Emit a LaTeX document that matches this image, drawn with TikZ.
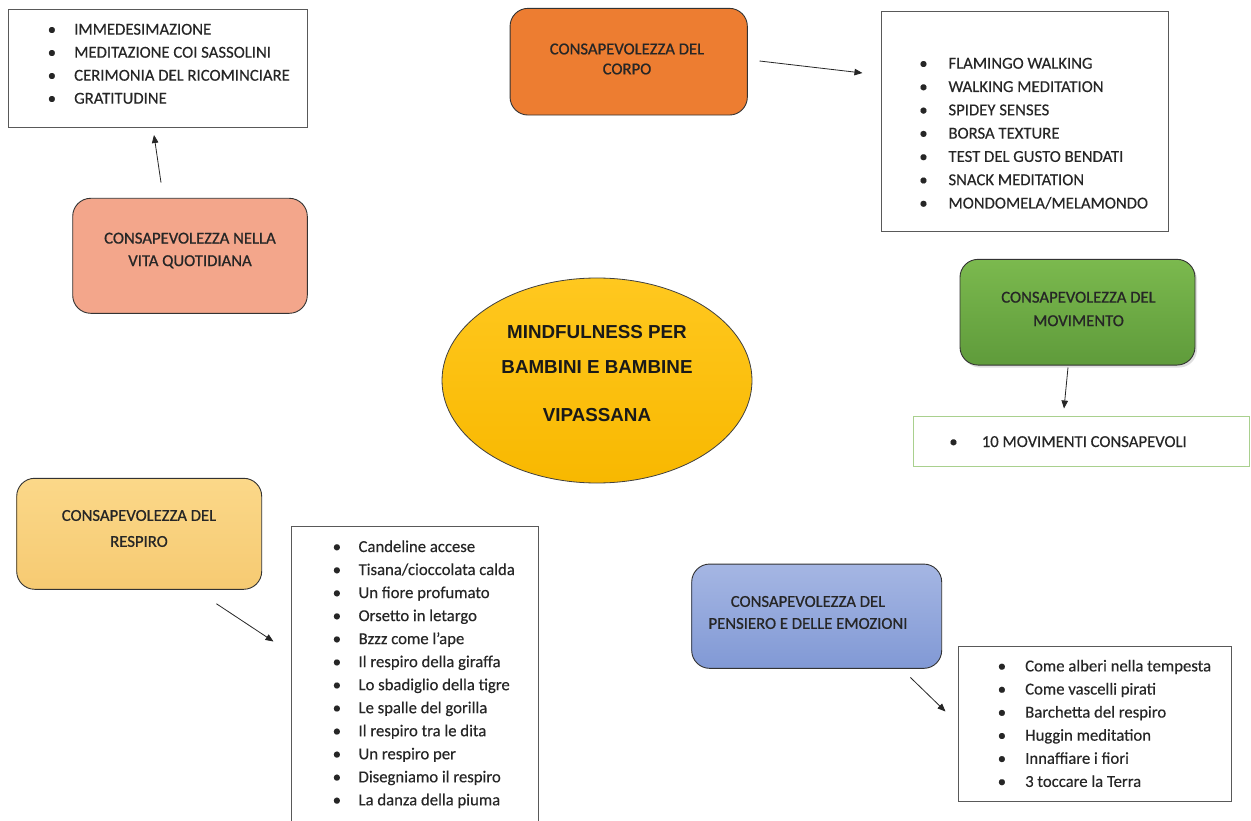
\documentclass[tikz,border=0pt]{standalone}
\usepackage{fontspec}
\setmainfont{Carlito}[FakeBold=0.3]
\newfontfamily\titlefont{Carlito}[FakeBold=0.8]
\newfontfamily\hubfont{Liberation Sans}
\usetikzlibrary{arrows.meta,calc,shadows,shapes.geometric}
\definecolor{vitaC}{HTML}{F3A68B}
\definecolor{corpoC}{HTML}{ED7D31}
\definecolor{movTop}{HTML}{7BB94E}
\definecolor{movBot}{HTML}{5F9B3B}
\definecolor{respTop}{HTML}{FBD889}
\definecolor{respBot}{HTML}{F6CA72}
\definecolor{pensTop}{HTML}{A5B6E3}
\definecolor{pensBot}{HTML}{8199D5}
\definecolor{hubTop}{HTML}{FFC81F}
\definecolor{hubBot}{HTML}{F8B800}
\definecolor{movLine}{HTML}{A9D08E}
\newcommand\bitem[2]{\makebox[0pt]{\textbullet}\hspace{#1pt}#2}
\tikzset{
  catbox/.style={draw=black!80, line width=0.9pt, rounded corners=18pt, inner sep=0pt},
  listbox/.style={draw=black!65, line width=1pt, inner sep=0pt, fill=white},
  titletext/.style={align=center, inner sep=0pt, text=black!85},
  listtext/.style={anchor=base west, inner sep=0pt, text=black!85},
  conn/.style={draw=black!85, line width=0.8pt, -{Triangle[length=8pt,width=6.5pt]}},
}
\begin{document}
\begin{tikzpicture}[x=1pt,y=-1pt]
\fill[white] (0,0) rectangle (1251,821);
\clip (0,0) rectangle (1251,821);

% ---- list boxes
\node[listbox, minimum width=299pt, minimum height=118pt] (tl) at (157.5,69) {};
\node[listtext, font=\fontsize{16.7}{23}\selectfont] (tltext) at (51.7,34.7) {\begin{tabular}[t]{@{}l@{}}
\bitem{22.3}{IMMEDESIMAZIONE}\\
\bitem{22.3}{MEDITAZIONE COI SASSOLINI}\\
\bitem{22.3}{CERIMONIA DEL RICOMINCIARE}\\
\bitem{22.3}{GRATITUDINE}
\end{tabular}};

\node[listbox, minimum width=287.3pt, minimum height=220pt] (rl) at (1025.3,121.7) {};
\node[listtext, font=\fontsize{16.7}{23.3}\selectfont] (rltext) at (923.3,68.7) {\begin{tabular}[t]{@{}l@{}}
\bitem{25}{FLAMINGO WALKING}\\
\bitem{25}{WALKING MEDITATION}\\
\bitem{25}{SPIDEY SENSES}\\
\bitem{25}{BORSA TEXTURE}\\
\bitem{25}{TEST DEL GUSTO BENDATI}\\
\bitem{25}{SNACK MEDITATION}\\
\bitem{25}{MONDOMELA/MELAMONDO}
\end{tabular}};

\node[listbox, draw=movLine, minimum width=336.2pt, minimum height=50pt] (ml) at (1081.4,441.7) {};
\node[listtext, font=\fontsize{16.7}{23}\selectfont] (mltext) at (953.3,447) {\bitem{28.3}{10 MOVIMENTI CONSAPEVOLI}};

\node[listbox, minimum width=246.6pt, minimum height=310pt] (rb) at (415,681.7) {};
\node[listtext, font=\fontsize{16.7}{23.03}\selectfont] (rbtext) at (336.7,552) {\begin{tabular}[t]{@{}l@{}}
\bitem{21.7}{Candeline accese}\\
\bitem{21.7}{Tisana/cioccolata calda}\\
\bitem{21.7}{Un fiore profumato}\\
\bitem{21.7}{Orsetto in letargo}\\
\bitem{21.7}{Bzzz come l’ape}\\
\bitem{21.7}{Il respiro della giraffa}\\
\bitem{21.7}{Lo sbadiglio della tigre}\\
\bitem{21.7}{Le spalle del gorilla}\\
\bitem{21.7}{Il respiro tra le dita}\\
\bitem{21.7}{Un respiro per}\\
\bitem{21.7}{Disegniamo il respiro}\\
\bitem{21.7}{La danza della piuma}
\end{tabular}};

\node[listbox, minimum width=273.4pt, minimum height=155pt] (pl) at (1095,724.2) {};
\node[listtext, font=\fontsize{16.7}{23.1}\selectfont] (pltext) at (1001.7,671.4) {\begin{tabular}[t]{@{}l@{}}
\bitem{23.3}{Come alberi nella tempesta}\\
\bitem{23.3}{Come vascelli pirati}\\
\bitem{23.3}{Barchetta del respiro}\\
\bitem{23.3}{Huggin meditation}\\
\bitem{23.3}{Innaffiare i fiori}\\
\bitem{23.3}{3 toccare la Terra}
\end{tabular}};

% ---- category boxes
\node[catbox, fill=vitaC, minimum width=234.6pt, minimum height=115pt] (vita) at (190,255.8) {};
\node[titletext, font=\titlefont\fontsize{16.7}{22.5}\selectfont] (vitat) at (190,250.5) {CONSAPEVOLEZZA NELLA\\VITA QUOTIDIANA};

\node[catbox, fill=corpoC, minimum width=237.3pt, minimum height=106.7pt] (corpo) at (628.7,61.7) {};
\node[titletext, font=\titlefont\fontsize{16.7}{20}\selectfont] (corpot) at (627,59) {CONSAPEVOLEZZA DEL\\CORPO};

\node[catbox, top color=movTop, bottom color=movBot, drop shadow={opacity=0.25, shadow xshift=2pt, shadow yshift=-2.5pt}, minimum width=235pt, minimum height=105.7pt] (mov) at (1077.5,312.2) {};
\node[titletext, font=\titlefont\fontsize{16.7}{23.5}\selectfont] (movt) at (1078.5,309) {CONSAPEVOLEZZA DEL\\MOVIMENTO};

\node[catbox, top color=respTop, bottom color=respBot, minimum width=245pt, minimum height=111pt] (resp) at (139.2,533.8) {};
\node[titletext, font=\titlefont\fontsize{16.7}{26}\selectfont] (respt) at (139,528.5) {CONSAPEVOLEZZA DEL\\RESPIRO};

\node[catbox, top color=pensTop, bottom color=pensBot, minimum width=250pt, minimum height=104.3pt] (pens) at (816.7,616.2) {};
\node[titletext, font=\titlefont\fontsize{16.7}{22}\selectfont] (penst) at (808,612.5) {CONSAPEVOLEZZA DEL\\PENSIERO E DELLE EMOZIONI};

% ---- central ellipse
\node[ellipse, draw=black!75, line width=0.8pt, top color=hubTop, bottom color=hubBot, minimum width=310pt, minimum height=205pt, inner sep=0pt] (hub) at (597,380.5) {};
\node[align=center, inner sep=0pt, text=black!90, font=\hubfont\bfseries\fontsize{18.8}{35}\selectfont] (hubt) at (597,373.5) {MINDFULNESS PER\\BAMBINI E BAMBINE\\[13pt]VIPASSANA};

% ---- connectors
\draw[conn] ($(vita.north)+(-29,-15.3)$) -- ($(tl.south)+(-3.5,6.5)$);
\draw[conn] ($(corpo.east)+(11.7,-0.7)$) -- ($(rl.west)+(-18.7,-48.7)$);
\draw[conn] ($(mov.south)+(-9.5,2)$) -- ($(ml.north)+(-17.4,-7.7)$);
\draw[conn] ($(resp.south east)+(-45.7,14)$) -- ($(rb.north west)+(-17.7,115.3)$);
\draw[conn] ($(pens.south east)+(-31.7,8.7)$) -- ($(pl.north west)+(-12.3,65.3)$);
\end{tikzpicture}
\end{document}
